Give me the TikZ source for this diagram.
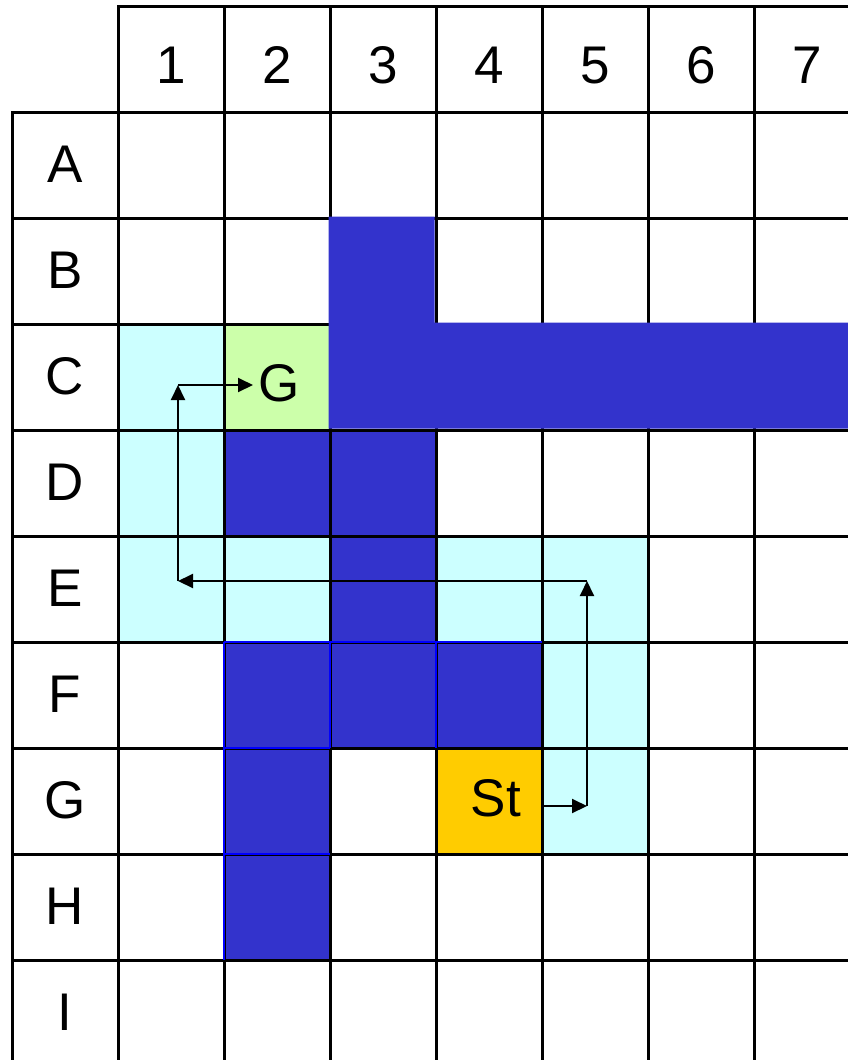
\documentclass[tikz,border=0pt]{standalone}
\usepackage{fontspec}
\setmainfont{Liberation Sans}
\usetikzlibrary{arrows.meta}
\definecolor{wall}{HTML}{3333CC}
\definecolor{openc}{HTML}{CCFFFF}
\definecolor{goalc}{HTML}{CCFFAA}
\definecolor{startc}{HTML}{FFCC00}
\definecolor{edgeblue}{HTML}{0000FF}
\begin{document}
\begin{tikzpicture}[x=1pt,y=-1pt,
  gridline/.style={line width=3pt, black, line cap=rect},
  blueline/.style={line width=2.5pt, edgeblue},
  lbl/.style={font=\fontsize{53}{60}\selectfont, inner sep=0pt, anchor=base},
  route/.style={line width=2pt, -{Triangle[length=15pt,width=14pt]}},
  cell/.style={rectangle, minimum width=106pt, minimum height=106pt, inner sep=0pt, draw=none}]
\useasboundingbox (0,0) rectangle (848,1060);
\clip (0,0) rectangle (848,1060);
\fill[white] (0,0) rectangle (848,1060);
% open (explored) cells
\node[cell, fill=openc] (C1) at (171,377) {};
\node[cell, fill=openc] (D1) at (171,483) {};
\node[cell, fill=openc] (E1) at (171,589) {};
\node[cell, fill=openc] (E2) at (277,589) {};
\node[cell, fill=openc] (E4) at (489,589) {};
\node[cell, fill=openc] (E5) at (595,589) {};
\node[cell, fill=openc] (F5) at (595,695) {};
\node[cell, fill=openc] (G5) at (595,801) {};
% goal and start cells
\node[cell, fill=goalc] (goalcell) at (277,377) {};
\node[cell, fill=startc] (startcell) at (489,801) {};
% wall cells
\node[cell, fill=wall] (D2) at (277,483) {};
\node[cell, fill=wall] (D3) at (383,483) {};
\node[cell, fill=wall] (E3) at (383,589) {};
\node[cell, fill=wall] (F2) at (277,695) {};
\node[cell, fill=wall] (F3) at (383,695) {};
\node[cell, fill=wall] (F4) at (489,695) {};
\node[cell, fill=wall] (G2) at (277,801) {};
\node[cell, fill=wall] (H2) at (277,907) {};
% grid
\foreach \x in {118,224,...,754} \draw[gridline] (\x,6) -- (\x,1062);
\draw[gridline] (12,112) -- (12,1062);
\draw[gridline] (118,6) -- (850,6);
\foreach \y in {112,218,...,960} \draw[gridline] (12,\y) -- (850,\y);
% blue borders of the lower wall
\draw[blueline] (224,642) -- (542,642);
\draw[blueline] (224,642) -- (224,960);
\draw[blueline] (330,642) -- (330,748);
\draw[blueline] (436,642) -- (436,748);
\draw[blueline] (224,748) -- (330,748);
\draw[blueline] (224,854) -- (330,854);
% upper wall block
\fill[wall] (328.5,216.5) -- (434.5,216.5) -- (434.5,322.5) -- (850,322.5) -- (850,428.5) -- (328.5,428.5) -- cycle;
% labels
\node[lbl] (h1) at (171,83) {1};
\node[lbl] (h2) at (277,83) {2};
\node[lbl] (h3) at (383,83) {3};
\node[lbl] (h4) at (489,83) {4};
\node[lbl] (h5) at (595,83) {5};
\node[lbl] (h6) at (701,83) {6};
\node[lbl] (h7) at (807,83) {7};
\node[lbl] (rA) at (65,182) {A};
\node[lbl] (rB) at (65,288) {B};
\node[lbl] (rC) at (65,394) {C};
\node[lbl] (rD) at (65,500) {D};
\node[lbl] (rE) at (65,606) {E};
\node[lbl] (rF) at (65,712) {F};
\node[lbl] (rG) at (65,818) {G};
\node[lbl] (rH) at (65,924) {H};
\node[lbl] (rI) at (65,1030) {I};
\node[lbl] (goal) at (279,401) {G};
\node[lbl] (st) at (496,816) {St};
% route
\coordinate (p1) at (587,806);
\coordinate (p2) at (587,581);
\coordinate (p3) at (178,581);
\coordinate (p4) at (178,385);
\coordinate (p5) at (253,385);
\draw[route] (startcell.east |- p1) -- (p1);
\draw[route] (p1) -- (p2);
\draw[route] (p2) -- (p3);
\draw[route] (p3) -- (p4);
\draw[route] (p4) -- (p5);
\end{tikzpicture}
\end{document}
